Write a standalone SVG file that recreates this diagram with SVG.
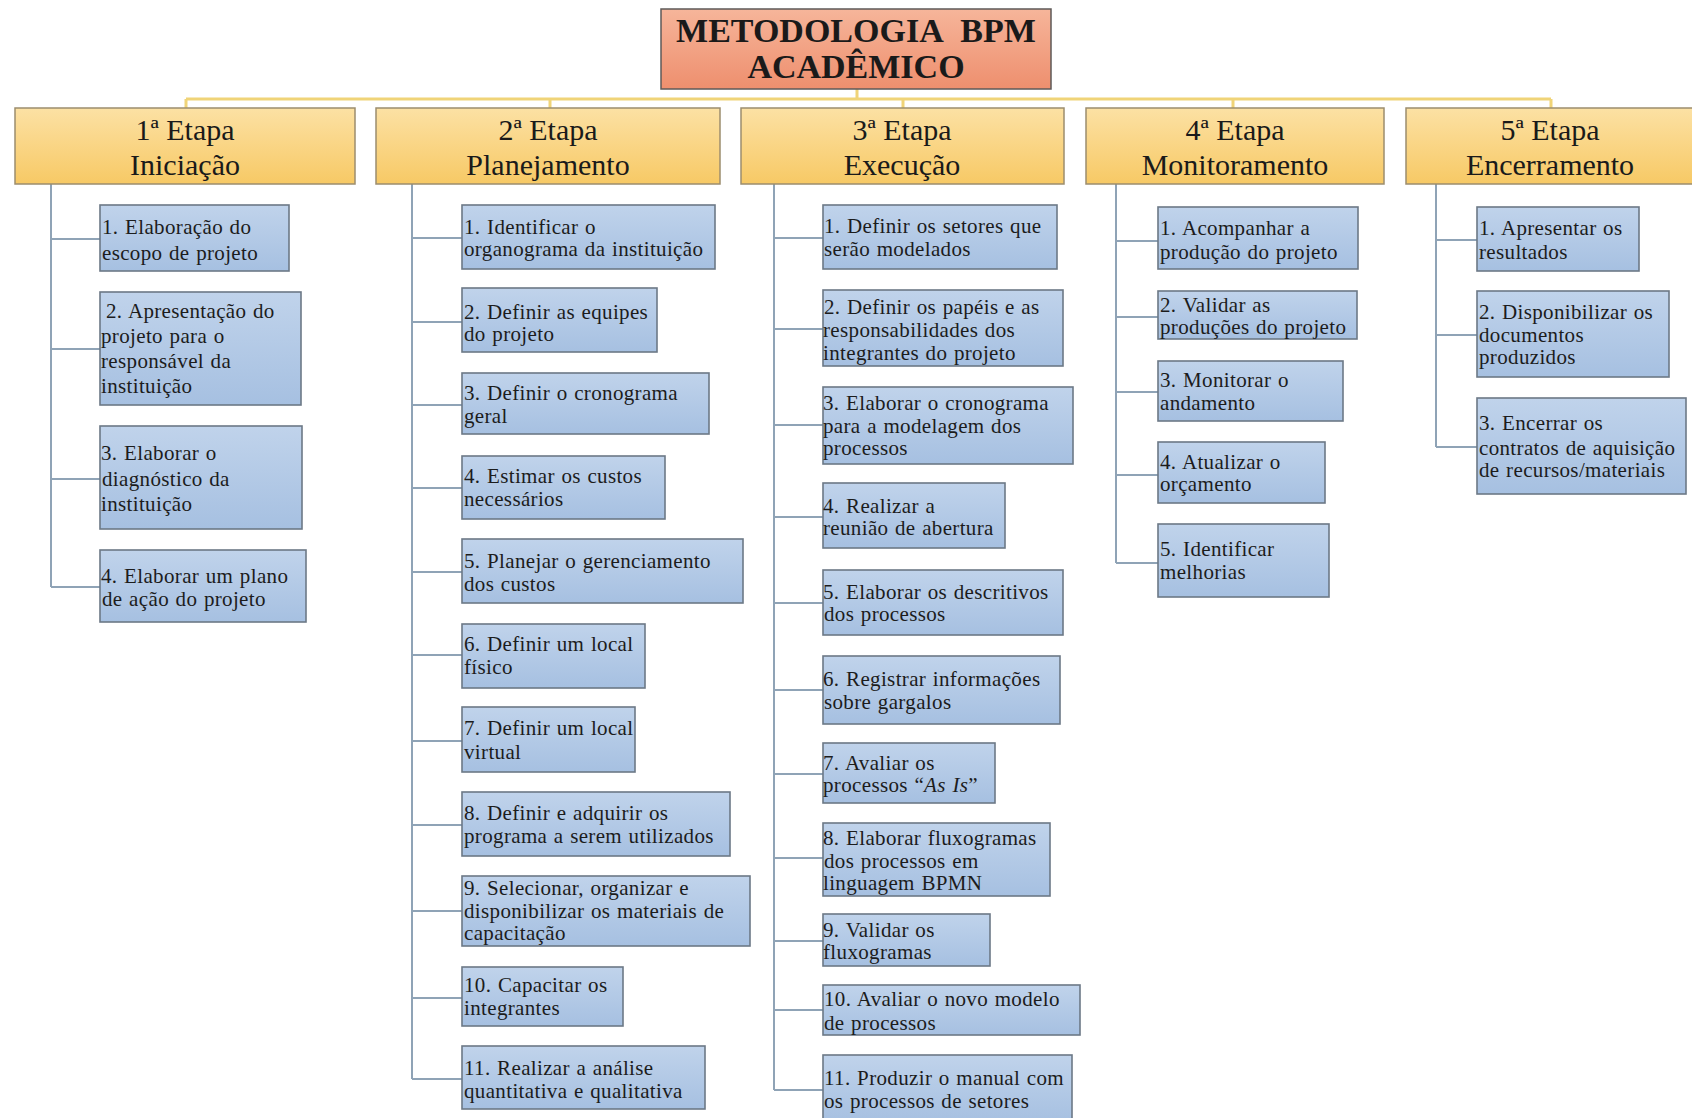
<svg xmlns="http://www.w3.org/2000/svg" width="1692" height="1118" viewBox="0 0 1692 1118">
  <defs>
    <linearGradient id="gTitle" x1="0" y1="0" x2="0" y2="1">
      <stop offset="0" stop-color="#F6B59A"/>
      <stop offset="1" stop-color="#EE8F6E"/>
    </linearGradient>
    <linearGradient id="gStage" x1="0" y1="0" x2="0" y2="1">
      <stop offset="0" stop-color="#FCE1A4"/>
      <stop offset="1" stop-color="#F7C965"/>
    </linearGradient>
    <linearGradient id="gItem" x1="0" y1="0" x2="0" y2="1">
      <stop offset="0" stop-color="#C0D3EB"/>
      <stop offset="1" stop-color="#A6C0E1"/>
    </linearGradient>
  </defs>
  <style>
    .title { fill: url(#gTitle); stroke: #5E5A58; stroke-width: 1.5; }
    .stage { fill: url(#gStage); stroke: #9C8D6E; stroke-width: 1.5; }
    .item { fill: url(#gItem); stroke: #6C7886; stroke-width: 1.6; }
    .tt { font-family: "Liberation Serif", "Times New Roman", serif; font-weight: bold; font-size: 34px; word-spacing: 10px; fill: #1A1A1A; text-anchor: middle; }
    .st { font-family: "Liberation Serif", "Times New Roman", serif; font-size: 30px; fill: #1A1A1A; text-anchor: middle; }
    .it { font-family: "Liberation Serif", "Times New Roman", serif; font-size: 21px; letter-spacing: 0.35px; word-spacing: 1px; fill: #1C1C1C; }
    .yl { stroke: #F0D478; stroke-width: 3; fill: none; }
    .bl { stroke: #8FA3B6; stroke-width: 2; fill: none; }
  </style>
  <rect width="1692" height="1118" fill="#FFFFFF"/>

  <!-- connectors -->
  <g id="connectors">
    <path class="yl" d="M857 88 V99 M186 99 H1551 M186 99 V108 M550 99 V108 M903 99 V108 M1233 99 V108 M1551 99 V108"/>
    <!-- stage 1 -->
    <path class="bl" d="M51 184 V587 M51 239 H100 M51 349 H100 M51 479 H100 M51 587 H100"/>
    <!-- stage 2 -->
    <path class="bl" d="M412 184 V1079 M412 238 H462 M412 322 H462 M412 405 H462 M412 488 H462 M412 572 H462 M412 655 H462 M412 741 H462 M412 825 H462 M412 911 H462 M412 998 H462 M412 1079 H462"/>
    <!-- stage 3 -->
    <path class="bl" d="M774 184 V1090 M774 238 H823 M774 329 H823 M774 425 H823 M774 517 H823 M774 603 H823 M774 690 H823 M774 774 H823 M774 858 H823 M774 941 H823 M774 1010 H823 M774 1090 H823"/>
    <!-- stage 4 -->
    <path class="bl" d="M1116 184 V563 M1116 241 H1158 M1116 317 H1158 M1116 392 H1158 M1116 475 H1158 M1116 563 H1158"/>
    <!-- stage 5 -->
    <path class="bl" d="M1436 184 V447 M1436 240 H1477 M1436 335 H1477 M1436 447 H1477"/>
  </g>

  <!-- root -->
  <g id="title">
    <rect class="title" x="661" y="9" width="390" height="80"/>
    <text class="tt" x="856" y="42">METODOLOGIA BPM</text>
    <text class="tt" x="856" y="78">ACADÊMICO</text>
  </g>

  <!-- stages -->
  <g id="stage1">
    <rect class="stage" x="15" y="108" width="340" height="76"/>
    <text class="st" x="185" y="140">1ª Etapa</text>
    <text class="st" x="185" y="175">Iniciação</text>
  </g>
  <g id="stage2">
    <rect class="stage" x="376" y="108" width="344" height="76"/>
    <text class="st" x="548" y="140">2ª Etapa</text>
    <text class="st" x="548" y="175">Planejamento</text>
  </g>
  <g id="stage3">
    <rect class="stage" x="741" y="108" width="323" height="76"/>
    <text class="st" x="902" y="140">3ª Etapa</text>
    <text class="st" x="902" y="175">Execução</text>
  </g>
  <g id="stage4">
    <rect class="stage" x="1086" y="108" width="298" height="76"/>
    <text class="st" x="1235" y="140">4ª Etapa</text>
    <text class="st" x="1235" y="175">Monitoramento</text>
  </g>
  <g id="stage5">
    <rect class="stage" x="1406" y="108" width="300" height="76"/>
    <text class="st" x="1550" y="140">5ª Etapa</text>
    <text class="st" x="1550" y="175">Encerramento</text>
  </g>

  <!-- stage 1 tasks -->
  <g id="s1-1">
    <rect class="item" x="100" y="205" width="189" height="66"/>
    <text class="it" x="102" y="234">1. Elaboração do</text>
    <text class="it" x="102" y="260">escopo de projeto</text>
  </g>
  <g id="s1-2">
    <rect class="item" x="100" y="292" width="201" height="113"/>
    <text class="it" x="106" y="318">2. Apresentação do</text>
    <text class="it" x="101" y="343">projeto para o</text>
    <text class="it" x="101" y="368">responsável da</text>
    <text class="it" x="101" y="393">instituição</text>
  </g>
  <g id="s1-3">
    <rect class="item" x="100" y="426" width="202" height="103"/>
    <text class="it" x="101" y="460">3. Elaborar o</text>
    <text class="it" x="102" y="486">diagnóstico da</text>
    <text class="it" x="101" y="511">instituição</text>
  </g>
  <g id="s1-4">
    <rect class="item" x="100" y="550" width="206" height="72"/>
    <text class="it" x="101" y="583">4. Elaborar um plano</text>
    <text class="it" x="102" y="606">de ação do projeto</text>
  </g>

  <!-- stage 2 tasks -->
  <g id="s2-1">
    <rect class="item" x="462" y="205" width="253" height="64"/>
    <text class="it" x="464" y="234">1. Identificar o</text>
    <text class="it" x="464" y="256">organograma da instituição</text>
  </g>
  <g id="s2-2">
    <rect class="item" x="462" y="288" width="195" height="64"/>
    <text class="it" x="464" y="319">2. Definir as equipes</text>
    <text class="it" x="464" y="341">do projeto</text>
  </g>
  <g id="s2-3">
    <rect class="item" x="462" y="373" width="247" height="61"/>
    <text class="it" x="464" y="400">3. Definir o cronograma</text>
    <text class="it" x="464" y="423">geral</text>
  </g>
  <g id="s2-4">
    <rect class="item" x="462" y="456" width="203" height="63"/>
    <text class="it" x="464" y="483">4. Estimar os custos</text>
    <text class="it" x="464" y="506">necessários</text>
  </g>
  <g id="s2-5">
    <rect class="item" x="462" y="539" width="281" height="64"/>
    <text class="it" x="464" y="568">5. Planejar o gerenciamento</text>
    <text class="it" x="464" y="591">dos custos</text>
  </g>
  <g id="s2-6">
    <rect class="item" x="462" y="624" width="183" height="64"/>
    <text class="it" x="464" y="651">6. Definir um local</text>
    <text class="it" x="464" y="674">físico</text>
  </g>
  <g id="s2-7">
    <rect class="item" x="462" y="707" width="173" height="65"/>
    <text class="it" x="464" y="735" letter-spacing="0">7. Definir um local</text>
    <text class="it" x="464" y="759">virtual</text>
  </g>
  <g id="s2-8">
    <rect class="item" x="462" y="792" width="268" height="64"/>
    <text class="it" x="464" y="820">8. Definir e adquirir os</text>
    <text class="it" x="464" y="843">programa a serem utilizados</text>
  </g>
  <g id="s2-9">
    <rect class="item" x="462" y="876" width="288" height="70"/>
    <text class="it" x="464" y="895">9. Selecionar, organizar e</text>
    <text class="it" x="464" y="918">disponibilizar os materiais de</text>
    <text class="it" x="464" y="940">capacitação</text>
  </g>
  <g id="s2-10">
    <rect class="item" x="462" y="967" width="161" height="59"/>
    <text class="it" x="464" y="992">10. Capacitar os</text>
    <text class="it" x="464" y="1015">integrantes</text>
  </g>
  <g id="s2-11">
    <rect class="item" x="462" y="1046" width="243" height="63"/>
    <text class="it" x="464" y="1075">11. Realizar a análise</text>
    <text class="it" x="464" y="1098">quantitativa e qualitativa</text>
  </g>

  <!-- stage 3 tasks -->
  <g id="s3-1">
    <rect class="item" x="823" y="205" width="234" height="64"/>
    <text class="it" x="824" y="233">1. Definir os setores que</text>
    <text class="it" x="824" y="256">serão modelados</text>
  </g>
  <g id="s3-2">
    <rect class="item" x="823" y="290" width="240" height="76"/>
    <text class="it" x="824" y="314">2. Definir os papéis e as</text>
    <text class="it" x="823" y="337">responsabilidades dos</text>
    <text class="it" x="823" y="360">integrantes do projeto</text>
  </g>
  <g id="s3-3">
    <rect class="item" x="823" y="387" width="250" height="77"/>
    <text class="it" x="823" y="410">3. Elaborar o cronograma</text>
    <text class="it" x="823" y="433">para a modelagem dos</text>
    <text class="it" x="823" y="455">processos</text>
  </g>
  <g id="s3-4">
    <rect class="item" x="823" y="483" width="182" height="65"/>
    <text class="it" x="823" y="513">4. Realizar a</text>
    <text class="it" x="823" y="535">reunião de abertura</text>
  </g>
  <g id="s3-5">
    <rect class="item" x="823" y="570" width="240" height="65"/>
    <text class="it" x="823" y="599">5. Elaborar os descritivos</text>
    <text class="it" x="824" y="621">dos processos</text>
  </g>
  <g id="s3-6">
    <rect class="item" x="823" y="656" width="237" height="68"/>
    <text class="it" x="823" y="686">6. Registrar informações</text>
    <text class="it" x="824" y="709">sobre gargalos</text>
  </g>
  <g id="s3-7">
    <rect class="item" x="823" y="743" width="172" height="60"/>
    <text class="it" x="823" y="770">7. Avaliar os</text>
    <text class="it" x="823" y="792">processos “<tspan font-style="italic">As Is</tspan>”</text>
  </g>
  <g id="s3-8">
    <rect class="item" x="823" y="823" width="227" height="73"/>
    <text class="it" x="823" y="845">8. Elaborar fluxogramas</text>
    <text class="it" x="824" y="868">dos processos em</text>
    <text class="it" x="823" y="890">linguagem BPMN</text>
  </g>
  <g id="s3-9">
    <rect class="item" x="823" y="914" width="167" height="52"/>
    <text class="it" x="823" y="937">9. Validar os</text>
    <text class="it" x="823" y="959">fluxogramas</text>
  </g>
  <g id="s3-10">
    <rect class="item" x="823" y="985" width="257" height="50"/>
    <text class="it" x="824" y="1006">10. Avaliar o novo modelo</text>
    <text class="it" x="824" y="1030">de processos</text>
  </g>
  <g id="s3-11">
    <rect class="item" x="823" y="1055" width="249" height="68"/>
    <text class="it" x="824" y="1085">11. Produzir o manual com</text>
    <text class="it" x="824" y="1108">os processos de setores</text>
  </g>

  <!-- stage 4 tasks -->
  <g id="s4-1">
    <rect class="item" x="1158" y="207" width="200" height="62"/>
    <text class="it" x="1160" y="235">1. Acompanhar a</text>
    <text class="it" x="1160" y="259">produção do projeto</text>
  </g>
  <g id="s4-2">
    <rect class="item" x="1158" y="291" width="199" height="48"/>
    <text class="it" x="1160" y="312">2. Validar as</text>
    <text class="it" x="1160" y="334" letter-spacing="0">produções do projeto</text>
  </g>
  <g id="s4-3">
    <rect class="item" x="1158" y="361" width="185" height="60"/>
    <text class="it" x="1160" y="387">3. Monitorar o</text>
    <text class="it" x="1160" y="410">andamento</text>
  </g>
  <g id="s4-4">
    <rect class="item" x="1158" y="442" width="167" height="61"/>
    <text class="it" x="1160" y="469">4. Atualizar o</text>
    <text class="it" x="1160" y="491">orçamento</text>
  </g>
  <g id="s4-5">
    <rect class="item" x="1158" y="524" width="171" height="73"/>
    <text class="it" x="1160" y="556">5. Identificar</text>
    <text class="it" x="1160" y="579">melhorias</text>
  </g>

  <!-- stage 5 tasks -->
  <g id="s5-1">
    <rect class="item" x="1477" y="207" width="162" height="64"/>
    <text class="it" x="1479" y="235">1. Apresentar os</text>
    <text class="it" x="1479" y="259">resultados</text>
  </g>
  <g id="s5-2">
    <rect class="item" x="1477" y="291" width="192" height="86"/>
    <text class="it" x="1479" y="319">2. Disponibilizar os</text>
    <text class="it" x="1479" y="342">documentos</text>
    <text class="it" x="1479" y="364">produzidos</text>
  </g>
  <g id="s5-3">
    <rect class="item" x="1477" y="398" width="209" height="96"/>
    <text class="it" x="1479" y="430">3. Encerrar os</text>
    <text class="it" x="1479" y="455" letter-spacing="0">contratos de aquisição</text>
    <text class="it" x="1479" y="477" letter-spacing="0">de recursos/materiais</text>
  </g>
</svg>
